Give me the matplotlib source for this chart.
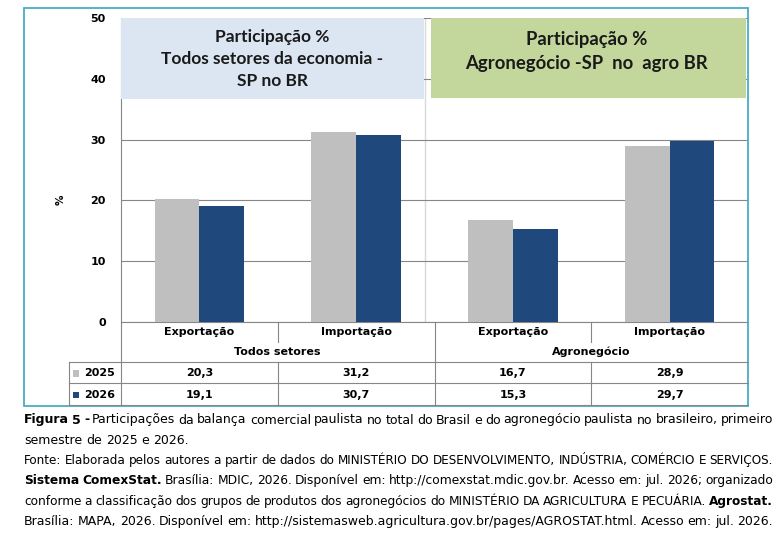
import matplotlib
matplotlib.use('Agg')
import matplotlib.pyplot as plt
import numpy as np
from matplotlib.patches import Rectangle
from matplotlib.lines import Line2D
from matplotlib.transforms import blended_transform_factory

plt.rcParams['font.family'] = 'DejaVu Sans'

categories = ['Exportação', 'Importação', 'Exportação', 'Importação']
groups = ['Todos setores', 'Agronegócio']
years = ['2025', '2026']
v2025 = [20.3, 31.2, 16.7, 28.9]
v2026 = [19.1, 30.7, 15.3, 29.7]
box_titles = ['Participação %\nTodos setores da economia -\nSP no BR',
              'Participação %\nAgronegócio -SP  no  agro BR']

caption = [
    ([('Figura 5 -', 'bold'), ('Participações da balança comercial paulista no total do Brasil e do agronegócio paulista no brasileiro, primeiro', 'normal')], True),
    ([('semestre de 2025 e 2026.', 'normal')], False),
    ([('Fonte: Elaborada pelos autores a partir de dados do MINISTÉRIO DO DESENVOLVIMENTO, INDÚSTRIA, COMÉRCIO E SERVIÇOS.', 'normal')], True),
    ([('Sistema ComexStat.', 'bold'), ('Brasília: MDIC, 2026. Disponível em: http://comexstat.mdic.gov.br. Acesso em: jul. 2026; organizado', 'normal')], True),
    ([('conforme a classificação dos grupos de produtos dos agronegócios do MINISTÉRIO DA AGRICULTURA E PECUÁRIA.', 'normal'), ('Agrostat.', 'bold')], True),
    ([('Brasília: MAPA, 2026. Disponível em: http://sistemasweb.agricultura.gov.br/pages/AGROSTAT.html. Acesso em: jul. 2026.', 'normal')], True),
]

GRAY = '#BFBFBF'
BLUE = '#1F497D'
LINE = '#868686'

W, H = 783, 546
def fx(px):
    return px / W
def fy(py):
    return 1 - py / H

fig = plt.figure(figsize=(W / 100, H / 100), dpi=100)
ax = fig.add_axes([fx(121), fy(322), fx(748) - fx(121), fy(18) - fy(322)])

x = np.arange(len(categories))
bw = 0.285
ax.bar(x - bw / 2, v2025, bw, color=GRAY, zorder=3)
ax.bar(x + bw / 2, v2026, bw, color=BLUE, zorder=3)
ax.set_xlim(-0.5, 3.5)
ax.set_ylim(0, 50)
ax.set_yticks(range(0, 51, 10))
ax.set_xticks([])
ax.yaxis.grid(True, color=LINE, lw=0.8, zorder=0)
for s in ['top', 'right']:
    ax.spines[s].set_visible(False)
ax.spines['left'].set_color(LINE)
ax.spines['bottom'].set_color(LINE)
ax.tick_params(axis='y', length=0, pad=11, labelsize=8)
for t in ax.get_yticklabels():
    t.set_fontweight('bold')

# light separator between the two panels
ax.plot([0.485, 0.485], [0, 1], transform=ax.transAxes, color='#D9D9D9', lw=1, zorder=1)

# title boxes
ax.add_patch(Rectangle((0, 0.734), 0.484, 0.266, transform=ax.transAxes,
                       fc='#DCE6F2', ec='none', zorder=4, clip_on=False))
ax.add_patch(Rectangle((0.494, 0.737), 0.503, 0.263, transform=ax.transAxes,
                       fc='#C3D69B', ec='none', zorder=4, clip_on=False))
ax.text(0.241, 0.865, box_titles[0], transform=ax.transAxes, ha='center', va='center',
        fontsize=12.5, family='Lato', fontweight='bold', linespacing=1.48,
        color='#1a1a1a', zorder=5)
ax.text(0.743, 0.891, box_titles[1], transform=ax.transAxes, ha='center', va='center',
        fontsize=13.3, family='Lato', fontweight='bold', linespacing=1.5,
        color='#1a1a1a', zorder=5)

fig.text(fx(61), fy(200), '%', rotation=90, ha='center', va='center', fontsize=7.5, fontweight='bold')

# data table under the axis
tr = blended_transform_factory(ax.transData, fig.transFigure)
def hline(x0, x1, y, transform):
    fig.add_artist(Line2D([x0, x1], [fy(y), fy(y)], transform=transform, color=LINE, lw=0.8))
def vline(xv, y0, y1, transform):
    fig.add_artist(Line2D([xv, xv], [fy(y0), fy(y1)], transform=transform, color=LINE, lw=0.8))

for yy in [362, 383, 405]:
    hline(fx(69), fx(748), yy, fig.transFigure)
vline(fx(69), 362, 405, fig.transFigure)
vline(-0.5, 322, 405, tr)
vline(1.5, 322, 405, tr)
for xv in [0.5, 2.5]:
    vline(xv, 322, 342, tr)
    vline(xv, 362, 405, tr)

tkw = dict(ha='center', va='center', fontsize=8, fontweight='bold', transform=tr)
for i, c in enumerate(categories):
    fig.text(i, fy(332), c, **tkw)
    fig.text(i, fy(373), f'{v2025[i]:.1f}'.replace('.', ','), **tkw)
    fig.text(i, fy(394.5), f'{v2026[i]:.1f}'.replace('.', ','), **tkw)
for j, g in enumerate(groups):
    fig.text(2 * j + 0.5, fy(352), g, **tkw)
for yr, col, yy in zip(years, [GRAY, BLUE], [373, 394.5]):
    fig.add_artist(Rectangle((fx(72.5), fy(yy + 3.5)), fx(6.5), fy(0) - fy(6.5),
                             transform=fig.transFigure, fc=col, ec='none'))
    fig.text(fx(84), fy(yy), yr, ha='left', va='center', fontsize=8, fontweight='bold')

# outer frame
fig.add_artist(Rectangle((fx(24), fy(406)), fx(748) - fx(24), fy(8) - fy(406),
                         transform=fig.transFigure, fill=False, ec='#4BACC6', lw=1.3))

# caption, justified word by word
fig.canvas.draw()
r = fig.canvas.get_renderer()
x0, x1 = 24, 773
min_gap = 3.2
baselines = [423.5, 443.8, 464, 484.3, 504.6, 525]
for (segs, justify), yb in zip(caption, baselines):
    fs = 9.0
    arts = []
    for txt, wt in segs:
        for w in txt.split():
            arts.append(fig.text(0, fy(yb), w, fontsize=fs, fontweight=wt, va='baseline'))
    widths = [a.get_window_extent(r).width for a in arts]
    need = sum(widths) + min_gap * (len(arts) - 1)
    if need > x1 - x0:
        fs = fs * (x1 - x0 - min_gap * (len(arts) - 1)) / sum(widths)
        for a in arts:
            a.set_fontsize(fs)
        widths = [a.get_window_extent(r).width for a in arts]
    gap = (x1 - x0 - sum(widths)) / (len(arts) - 1) if justify else 4.0
    xx = x0
    for a, w in zip(arts, widths):
        a.set_x(fx(xx))
        xx += w + gap

fig.savefig('out.png', dpi=100)
